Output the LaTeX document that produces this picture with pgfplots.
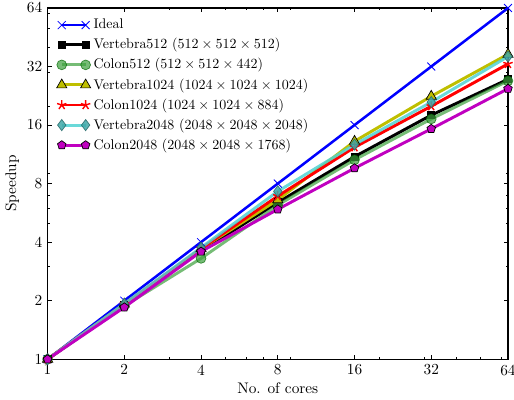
\documentclass[11pt,border=0pt]{standalone}
\usepackage{pgfplots}
\pgfplotsset{compat=1.18}
\usetikzlibrary{plotmarks}

\definecolor{cideal}{RGB}{0,0,255}
\definecolor{ccolonA}{RGB}{60,160,60}
\definecolor{cvertB}{RGB}{191,191,0}
\definecolor{ccolonB}{RGB}{255,0,0}
\definecolor{cvertC}{RGB}{80,210,210}
\definecolor{ccolonC}{RGB}{192,0,192}

\begin{document}
\begin{tikzpicture}
\begin{axis}[
    name=ax,
    scale only axis,
    width=329pt, height=251pt,
    xmode=log, ymode=log,
    log basis x=2, log basis y=2,
    xmin=1, xmax=64, ymin=1, ymax=64,
    xtick={1,2,4,8,16,32,64},
    xticklabels={1,2,4,8,16,32,64},
    ytick={1,2,4,8,16,32,64},
    yticklabels={1,2,4,8,16,32,64},
    extra x ticks={3,5,6,7,9,20,30,40,50,60},
    extra x tick labels={},
    extra y ticks={3,5,6,7,9,20,30,40,50,60},
    extra y tick labels={},
    extra tick style={major tick length=1.5pt},
    major tick length=3pt,
    tick style={black, line width=0.5pt},
    axis line style={line width=0.8pt},
    xlabel={No. of cores},
    ylabel={Speedup},
    xlabel style={yshift=2.6pt},
    ylabel style={yshift=-2pt},
    legend style={draw=none, fill=none, at={(0.01,0.985)}, anchor=north west,
        row sep=1.2pt, font=\small},
    legend cell align=left,
    legend image code/.code={\draw[#1] plot coordinates {(0cm,0cm) (0.6cm,0cm)};},
]

% Ideal
\addplot[cideal, line width=1.8pt, mark=x, mark size=4pt,
    mark options={line width=0.6pt}] coordinates {
  (1,1) (2,2) (4,4) (8,8) (16,16) (32,32) (64,64)
};
\addlegendentry{Ideal}

% Vertebra512
\addplot[black, line width=2.1pt, mark=square*, mark size=1.8pt] coordinates {
  (1,1) (2,1.90) (4,3.60) (8,6.40) (16,11.0) (32,18.0) (64,27.5)
};
\addlegendentry{Vertebra512 ($512\times512\times512$)}

% Colon512
\addplot[ccolonA, line width=2.1pt, opacity=0.7, mark=*, mark size=3.5pt,
    mark options={fill=ccolonA, draw=green!40!black, line width=0.5pt}] coordinates {
  (1,1) (2,1.88) (4,3.30) (8,6.20) (16,10.6) (32,17.2) (64,27.0)
};
\addlegendentry{Colon512 ($512\times512\times442$)}

% Vertebra1024
\addplot[cvertB, line width=2.1pt, mark=triangle*, mark size=4.2pt,
    mark options={fill=cvertB, draw=black, line width=0.5pt}] coordinates {
  (1,1) (2,1.92) (4,3.70) (8,6.60) (16,13.2) (32,22.5) (64,37.0)
};
\addlegendentry{Vertebra1024 ($1024\times1024\times1024$)}

% Colon1024
\addplot[ccolonB, line width=2.1pt, mark=star, mark size=3.5pt,
    mark options={draw=ccolonB, line width=1pt}] coordinates {
  (1,1) (2,1.92) (4,3.70) (8,6.90) (16,12.3) (32,20.0) (64,33.0)
};
\addlegendentry{Colon1024 ($1024\times1024\times884$)}

% Vertebra2048
\addplot[cvertC, line width=2.1pt, opacity=0.85, mark=diamond*, mark size=4pt,
    mark options={fill=cvertC!80!black, draw=cvertC!50!black, line width=0.5pt}] coordinates {
  (1,1) (2,1.93) (4,3.75) (8,7.30) (16,12.7) (32,21.0) (64,36.0)
};
\addlegendentry{Vertebra2048 ($2048\times2048\times2048$)}

% Colon2048
\addplot[ccolonC, line width=2.1pt, mark=pentagon*, mark size=3.2pt,
    mark options={fill=ccolonC, draw=black, line width=0.5pt}] coordinates {
  (1,1) (2,1.85) (4,3.58) (8,5.90) (16,9.60) (32,15.3) (64,24.6)
};
\addlegendentry{Colon2048 ($2048\times2048\times1768$)}

\end{axis}
% Rand wie im Original: rechts knapp hinter der Achse abgeschnitten
\pgfresetboundingbox
\path[use as bounding box] ([xshift=-34pt,yshift=-28.6pt]ax.south west)
    rectangle ([xshift=4.3pt,yshift=5.7pt]ax.north east);
\end{tikzpicture}
\end{document}
